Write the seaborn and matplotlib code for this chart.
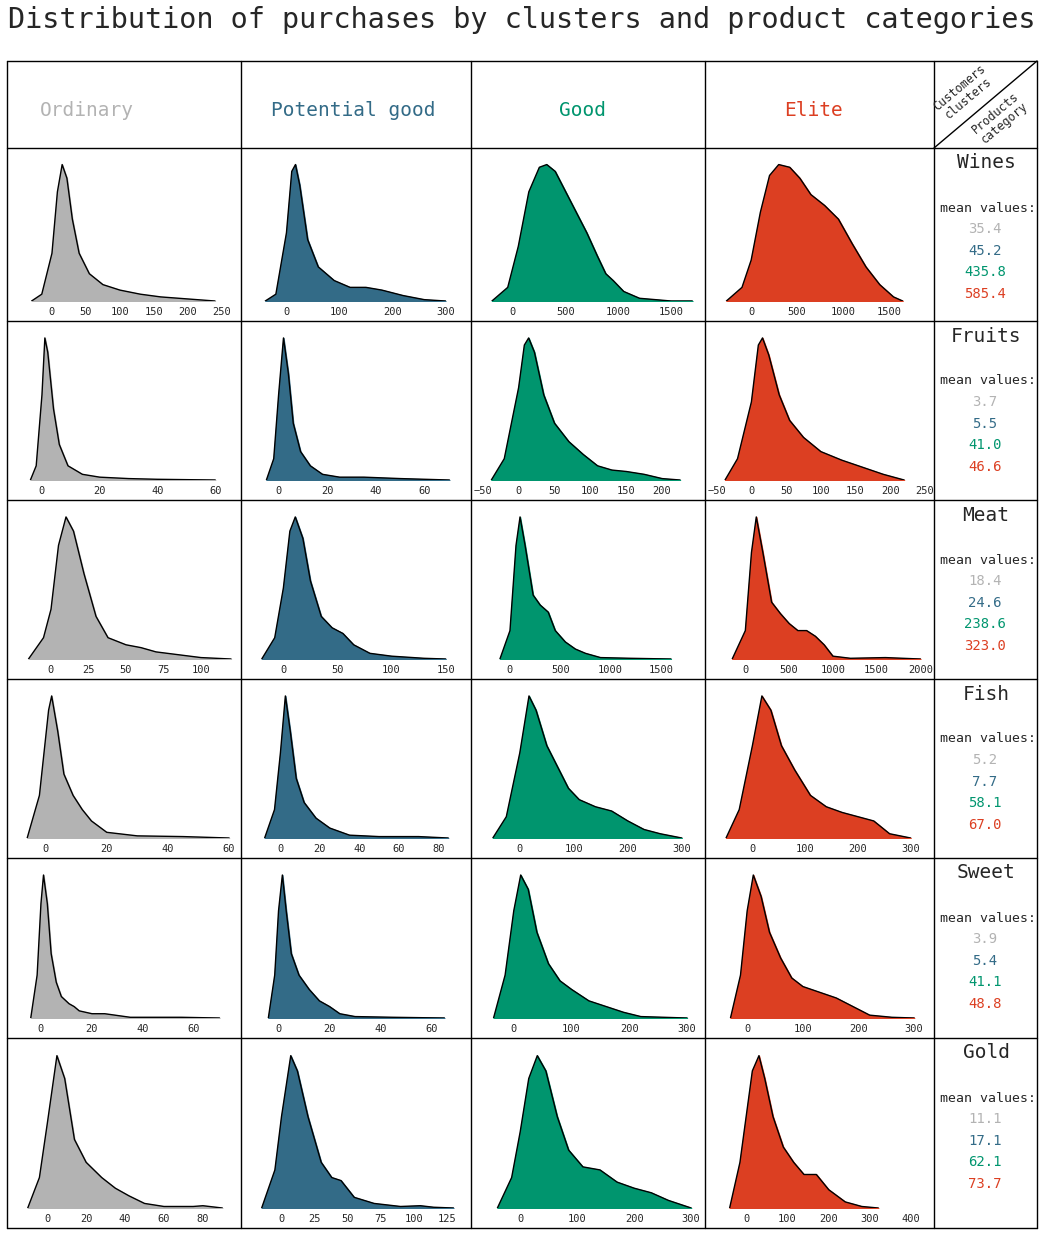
import numpy as np
import pandas as pd
import seaborn as sns
import matplotlib.pyplot as plt
from matplotlib.lines import Line2D

sns.set_style("white")
plt.rcParams['font.family'] = ['DejaVu Sans Mono']

clusters = ["Ordinary", "Potential good", "Good", "Elite"]
colors = ["#b3b3b3", "#336b87", "#00956e", "#dc3f22"]
categories = ["Wines", "Fruits", "Meat", "Fish", "Sweet", "Gold"]

mean_values = {
    "Wines": [35.4, 45.2, 435.8, 585.4],
    "Fruits": [3.7, 5.5, 41.0, 46.6],
    "Meat": [18.4, 24.6, 238.6, 323.0],
    "Fish": [5.2, 7.7, 58.1, 67.0],
    "Sweet": [3.9, 5.4, 41.1, 48.8],
    "Gold": [11.1, 17.1, 62.1, 73.7],
}

# density curves: (value, relative height)
wines_ord = [(-30,0),(-15,0.05),(0,0.35),(8,0.8),(15,1),(22,0.9),(30,0.6),(40,0.35),(55,0.2),(75,0.12),(100,0.08),(130,0.05),(160,0.03),(200,0.015),(240,0)]
wines_pot = [(-40,0),(-20,0.05),(0,0.5),(10,0.95),(17,1),(25,0.85),(40,0.45),(60,0.25),(90,0.15),(120,0.1),(150,0.1),(180,0.08),(220,0.04),(260,0.01),(300,0)]
wines_good = [(-200,0),(-50,0.1),(50,0.4),(150,0.8),(250,0.98),(320,1),(400,0.95),(500,0.8),(600,0.65),(700,0.5),(800,0.33),(880,0.2),(950,0.15),(1050,0.07),(1200,0.02),(1500,0),(1700,0)]
wines_elite = [(-270,0),(-100,0.1),(0,0.3),(100,0.65),(200,0.92),(300,1),(420,0.98),(530,0.9),(650,0.78),(800,0.7),(950,0.6),(1100,0.42),(1250,0.25),(1400,0.12),(1550,0.03),(1650,0)]

fruits_ord = [(-4,0),(-2,0.1),(0,0.6),(1,1),(2,0.9),(4,0.5),(6,0.25),(9,0.1),(14,0.04),(20,0.02),(30,0.01),(40,0.005),(60,0)]
fruits_pot = [(-5,0),(-2,0.15),(0,0.6),(2,1),(4,0.75),(6,0.4),(9,0.2),(13,0.1),(18,0.04),(25,0.02),(35,0.02),(50,0.01),(70,0)]
fruits_good = [(-38,0),(-20,0.15),(0,0.65),(8,0.95),(14,1),(22,0.9),(35,0.6),(50,0.4),(70,0.27),(90,0.18),(110,0.1),(130,0.07),(150,0.06),(175,0.04),(200,0.01),(225,0)]
fruits_elite = [(-38,0),(-20,0.15),(0,0.55),(10,0.95),(16,1),(25,0.88),(40,0.6),(55,0.42),(75,0.3),(100,0.2),(130,0.14),(160,0.09),(190,0.04),(220,0)]

meat_ord = [(-15,0),(-5,0.15),(0,0.35),(5,0.8),(10,1),(15,0.9),(22,0.6),(30,0.3),(38,0.15),(50,0.1),(60,0.08),(70,0.05),(85,0.03),(100,0.01),(120,0)]
meat_pot = [(-20,0),(-8,0.15),(0,0.5),(6,0.9),(11,1),(18,0.85),(25,0.55),(35,0.3),(45,0.22),(55,0.18),(65,0.1),(80,0.04),(100,0.02),(130,0.005),(150,0)]
meat_good = [(-100,0),(0,0.2),(60,0.8),(100,1),(150,0.8),(230,0.45),(300,0.38),(380,0.33),(450,0.2),(550,0.12),(650,0.07),(750,0.04),(900,0.01),(1200,0.005),(1600,0)]
meat_elite = [(-150,0),(0,0.2),(70,0.75),(125,1),(200,0.75),(300,0.4),(400,0.32),(500,0.25),(600,0.2),(700,0.2),(800,0.16),(900,0.1),(1000,0.02),(1200,0.005),(1600,0.01),(1800,0.005),(2000,0)]

fish_ord = [(-6,0),(-2,0.3),(1,0.9),(2,1),(4,0.75),(6,0.45),(9,0.3),(12,0.2),(15,0.12),(20,0.04),(30,0.015),(45,0.01),(60,0)]
fish_pot = [(-8,0),(-3,0.2),(0,0.6),(2.5,1),(5,0.75),(8,0.42),(12,0.25),(18,0.14),(25,0.07),(35,0.02),(50,0.01),(70,0.01),(85,0)]
fish_good = [(-50,0),(-25,0.15),(0,0.6),(17,1),(30,0.9),(50,0.65),(70,0.5),(90,0.35),(110,0.27),(140,0.22),(170,0.19),(200,0.12),(230,0.06),(260,0.03),(300,0)]
fish_elite = [(-50,0),(-25,0.2),(0,0.65),(18,1),(35,0.9),(55,0.65),(80,0.48),(110,0.3),(140,0.22),(170,0.18),(200,0.15),(230,0.12),(260,0.03),(300,0)]

sweet_ord = [(-4,0),(-1.5,0.3),(0,0.8),(1,1),(2.5,0.8),(4,0.45),(6,0.25),(8,0.15),(11,0.1),(13,0.08),(15,0.05),(20,0.03),(25,0.03),(35,0.005),(55,0.005),(70,0)]
sweet_pot = [(-4,0),(-1.5,0.3),(0,0.75),(1.5,1),(3,0.75),(5,0.45),(8,0.3),(12,0.2),(16,0.12),(20,0.08),(24,0.03),(30,0.01),(45,0.005),(65,0)]
sweet_good = [(-35,0),(-15,0.3),(0,0.75),(12,1),(25,0.9),(40,0.6),(60,0.38),(80,0.26),(100,0.2),(130,0.12),(160,0.08),(190,0.04),(220,0.01),(260,0.005),(300,0)]
sweet_elite = [(-30,0),(-12,0.3),(0,0.75),(11,1),(25,0.85),(40,0.6),(60,0.42),(80,0.28),(100,0.22),(130,0.18),(160,0.14),(190,0.08),(220,0.02),(260,0.005),(300,0)]

gold_ord = [(-10,0),(-4,0.2),(0,0.55),(5,1),(9,0.85),(14,0.45),(20,0.3),(28,0.2),(35,0.13),(42,0.08),(50,0.03),(60,0.01),(75,0.01),(80,0.015),(90,0)]
gold_pot = [(-15,0),(-5,0.25),(0,0.6),(7,1),(12,0.9),(20,0.6),(30,0.3),(38,0.2),(45,0.18),(55,0.07),(70,0.03),(90,0.01),(105,0.015),(115,0.005),(130,0)]
gold_good = [(-40,0),(-15,0.2),(0,0.5),(15,0.85),(30,1),(45,0.9),(65,0.6),(85,0.38),(110,0.27),(140,0.25),(170,0.17),(200,0.13),(230,0.1),(260,0.05),(300,0)]
gold_elite = [(-40,0),(-15,0.3),(0,0.6),(15,0.9),(31,1),(45,0.85),(65,0.6),(90,0.4),(115,0.3),(140,0.22),(170,0.22),(200,0.12),(240,0.04),(280,0.01),(320,0)]

curves = {
    "Wines": [wines_ord, wines_pot, wines_good, wines_elite],
    "Fruits": [fruits_ord, fruits_pot, fruits_good, fruits_elite],
    "Meat": [meat_ord, meat_pot, meat_good, meat_elite],
    "Fish": [fish_ord, fish_pot, fish_good, fish_elite],
    "Sweet": [sweet_ord, sweet_pot, sweet_good, sweet_elite],
    "Gold": [gold_ord, gold_pot, gold_good, gold_elite],
}

xlims = {
    "Wines": [(-50, 268), (-65, 335), (-294, 1755), (-383, 1915)],
    "Fruits": [(-8.3, 66.5), (-10.9, 76), (-51, 250), (-51, 253)],
    "Meat": [(-22, 122), (-29, 167), (-278, 1869), (-335, 2075)],
    "Fish": [(-9, 61.6), (-14.4, 93), (-70, 330), (-69, 331)],
    "Sweet": [(-9, 75.7), (-10.4, 72.7), (-55, 319), (-56, 323)],
    "Gold": [(-15, 96), (-22.3, 138), (-67, 312), (-73, 438)],
}
xticks = {
    "Wines": [[0,50,100,150,200,250], [0,100,200,300], [0,500,1000,1500], [0,500,1000,1500]],
    "Fruits": [[0,20,40,60], [0,20,40,60], [-50,0,50,100,150,200], [-50,0,50,100,150,200,250]],
    "Meat": [[0,25,50,75,100], [0,50,100,150], [0,500,1000,1500], [0,500,1000,1500,2000]],
    "Fish": [[0,20,40,60], [0,20,40,60,80], [0,100,200,300], [0,100,200,300]],
    "Sweet": [[0,20,40,60], [0,20,40,60], [0,100,200,300], [0,100,200,300]],
    "Gold": [[0,20,40,60,80], [0,25,50,75,100,125], [0,100,200,300], [0,100,200,300,400]],
}

W, H = 1044, 1235
fig = plt.figure(figsize=(W / 100, H / 100), dpi=100)

col_x = [7, 241, 471, 705, 934, 1037]
row_y = [61, 148, 321, 500, 679, 858, 1038, 1228]


def fx(px):
    return px / W


def fy(py):
    return 1 - py / H


def hline(x0, x1, y):
    fig.add_artist(Line2D([fx(x0), fx(x1)], [fy(y), fy(y)], color="black", lw=1))


def vline(x, y0, y1):
    fig.add_artist(Line2D([fx(x), fx(x)], [fy(y0), fy(y1)], color="black", lw=1))


for y in row_y:
    hline(col_x[0], col_x[-1], y)
for x in col_x:
    vline(x, row_y[0], row_y[-1])
fig.add_artist(Line2D([fx(934), fx(1037)], [fy(148), fy(61)], color="black", lw=1))

fig.text(0.5, fy(20), "Distribution of purchases by clusters and product categories",
         ha="center", va="center", fontsize=20.5)

header_x = [87, 353, 583, 814]
for name, c, x in zip(clusters, colors, header_x):
    fig.text(fx(x), fy(110), name, color=c, fontsize=14, ha="center", va="center")
fig.text(fx(964), fy(93), "Customers\nclusters", rotation=40, fontsize=8.5,
         ha="center", va="center", linespacing=1.0)
fig.text(fx(1000), fy(118), "Products\ncategory", rotation=40, fontsize=8.5,
         ha="center", va="center", linespacing=1.0)

for r, cat in enumerate(categories):
    top, bot = row_y[r + 1], row_y[r + 2]
    for c in range(4):
        x0, x1 = col_x[c] + 11, col_x[c + 1] - 7
        ax = fig.add_axes([fx(x0), fy(bot - 20), fx(x1 - x0), (bot - 20 - top - 7) / H])
        df = pd.DataFrame(curves[cat][c], columns=["value", "density"])
        ax.fill_between(df["value"], df["density"], color=colors[c], zorder=1)
        sns.lineplot(data=df, x="value", y="density", color="black", lw=1, ax=ax,
                     sort=False, zorder=2)
        ax.set_xlim(*xlims[cat][c])
        ax.set_ylim(0, 1.07)
        ax.set_xticks(xticks[cat][c])
        ax.set_yticks([])
        ax.set_xlabel("")
        ax.set_ylabel("")
        ax.tick_params(axis="x", labelsize=7.5, length=0, pad=4)
        for s in ax.spines.values():
            s.set_visible(False)
        ax.patch.set_alpha(0)
    # right column text
    fig.text(fx(986), fy(top + 15), cat, fontsize=14, ha="center", va="center")
    fig.text(fx(988), fy(top + 60), "mean values:", fontsize=9.5, ha="center", va="center")
    for k, v in enumerate(mean_values[cat]):
        fig.text(fx(985), fy(top + 81 + k * 21.7), f"{v:.1f}", color=colors[k],
                 fontsize=10, ha="center", va="center")

fig.savefig("out.png", dpi=100)
